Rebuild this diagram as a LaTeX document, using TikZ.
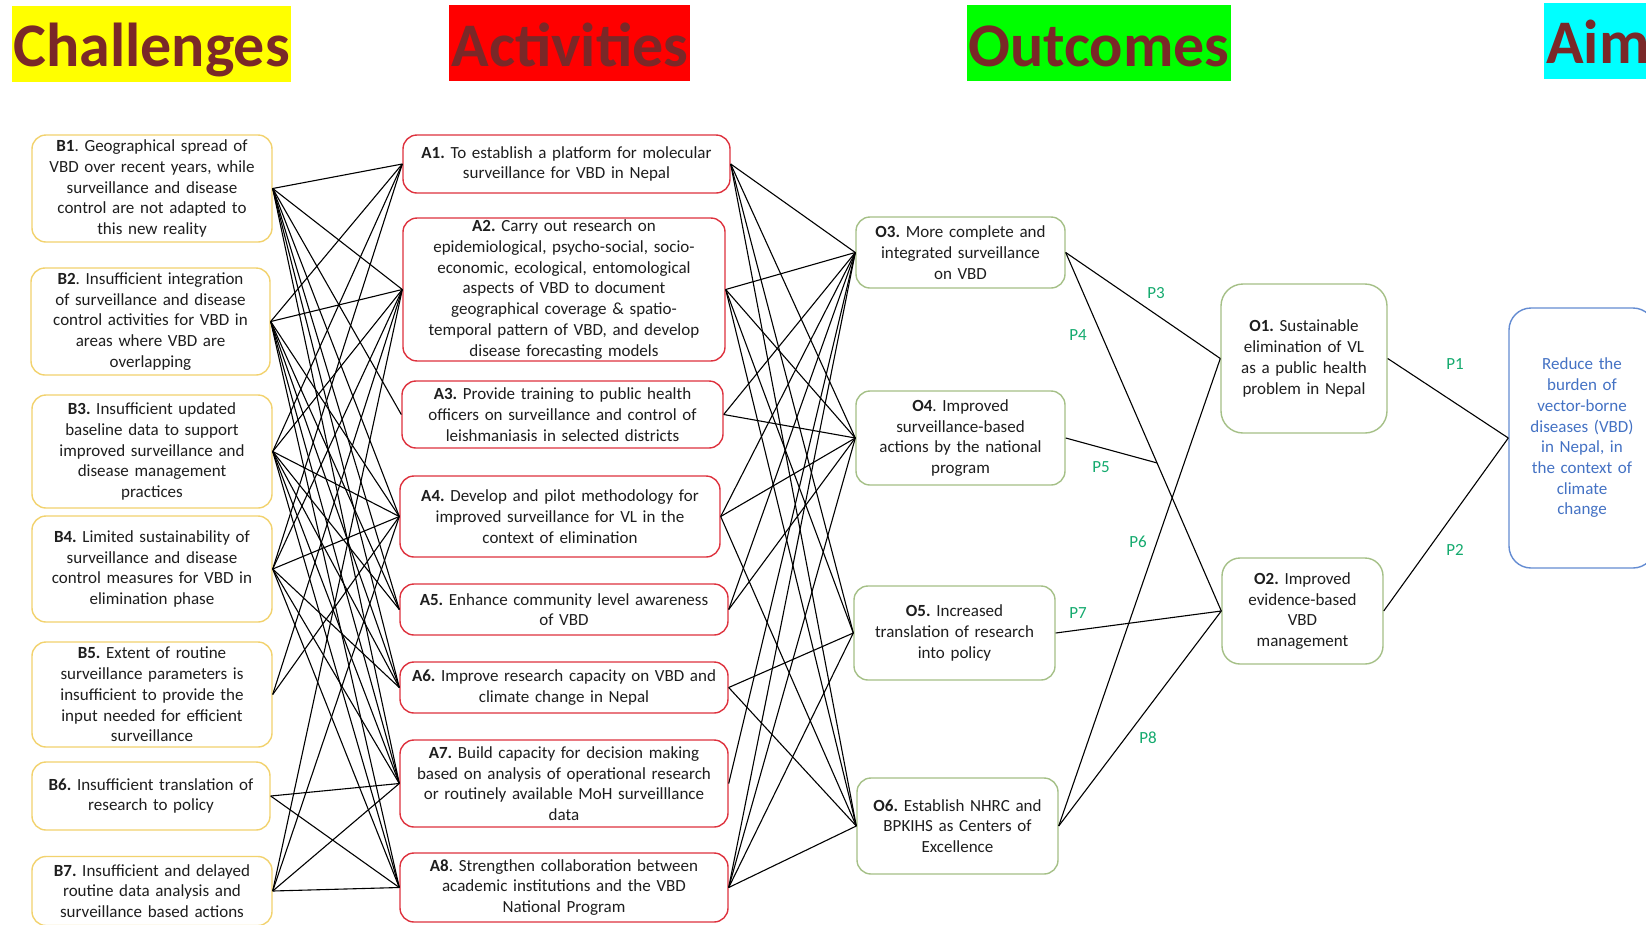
\documentclass[tikz,border=0pt]{standalone}
\usepackage{fontspec}
\setmainfont{Carlito}
\definecolor{byel}{RGB}{242,210,110}
\definecolor{ared}{RGB}{222,50,62}
\definecolor{ogrn}{RGB}{165,192,135}
\definecolor{aimblue}{RGB}{68,114,196}
\definecolor{aimbord}{RGB}{100,140,210}
\definecolor{pgrn}{RGB}{20,170,110}
\definecolor{ttl}{RGB}{122,40,40}
\definecolor{txt}{RGB}{30,30,30}
\definecolor{hyel}{RGB}{255,255,0}
\definecolor{hred}{RGB}{255,0,0}
\definecolor{hgrn}{RGB}{0,255,0}
\definecolor{hcyan}{RGB}{0,255,255}
\frenchspacing
\begin{document}
\begin{tikzpicture}[x=1pt,y=-1pt,
  box/.style={draw, rounded corners=14pt, line width=1.4pt, align=center, inner sep=2pt, text=txt,
    font=\fontsize{17}{20.7}\selectfont},
  bbox/.style={box, draw=byel},
  abox/.style={box, draw=ared},
  obox/.style={box, draw=ogrn},
  conn/.style={line width=1.1pt, black},
  plab/.style={text=pgrn, inner sep=0pt, font=\fontsize{17}{20}\selectfont},
  hdr/.style={inner sep=0pt, text=ttl, font=\fontsize{62}{62}\selectfont\bfseries}]
\useasboundingbox (0,0) rectangle (1646,924);
\fill[white] (0,0) rectangle (1646,924);

% headers
\fill[hyel] (12,6) rectangle (291,82);
\node[hdr, anchor=base] (hc) at (151.5,66) {Challenges};
\fill[hred] (449,5) rectangle (690,81);
\node[hdr, anchor=base] (ha) at (570,66) {Activities};
\fill[hgrn] (967,5) rectangle (1231,81);
\node[hdr, anchor=base] (ho) at (1099,66) {Outcomes};
\fill[hcyan] (1544,3) rectangle (1660,79);
\node[hdr, anchor=base west] (hm) at (1546,63) {Aim};

% challenges
\node[bbox, minimum width=240, minimum height=107, text width=232] (b1) at (152,188.5)
 {\textbf{B1}. Geographical spread of\\VBD over recent years, while\\surveillance and disease\\control are not adapted to\\this new reality};
\node[bbox, minimum width=239, minimum height=107, text width=232] (b2) at (150.5,321.5)
 {\textbf{B2}. Insufficient integration\\of surveillance and disease\\control activities for VBD in\\areas where VBD are\\overlapping};
\node[bbox, minimum width=240, minimum height=113, text width=232] (b3) at (152,451.5)
 {\textbf{B3.} Insufficient updated\\baseline data to support\\improved surveillance and\\disease management\\practices};
\node[bbox, minimum width=240, minimum height=106, text width=232] (b4) at (152,569)
 {\textbf{B4.} Limited sustainability of\\surveillance and disease\\control measures for VBD in\\elimination phase};
\node[bbox, minimum width=240, minimum height=105, text width=232] (b5) at (152,694.5)
 {\textbf{B5.} Extent of routine\\surveillance parameters is\\insufficient to provide the\\input needed for efficient\\surveillance};
\node[bbox, minimum width=238, minimum height=68, text width=232] (b6) at (151,796)
 {\textbf{B6.} Insufficient translation of\\research to policy};
\node[bbox, minimum width=240, minimum height=69, text width=232] (b7) at (152,891)
 {\textbf{B7.} Insufficient and delayed\\routine data analysis and\\surveillance based actions};

% activities
\node[abox, minimum width=327, minimum height=58, text width=318] (a1) at (566.5,164)
 {\textbf{A1.} To establish a platform for molecular\\surveillance for VBD in Nepal};
\node[abox, minimum width=322, minimum height=141, text width=314] (a2) at (564,289.5)
 {\textbf{A2.} Carry out research on\\epidemiological, psycho-social, socio-\\economic, ecological, entomological\\aspects of VBD to document\\geographical coverage \& spatio-\\temporal pattern of VBD, and develop\\disease forecasting models};
\node[abox, minimum width=321, minimum height=67, text width=314] (a3) at (562.5,414.5)
 {\textbf{A3.} Provide training to public health\\officers on surveillance and control of\\leishmaniasis in selected districts};
\node[abox, minimum width=320, minimum height=81, text width=312] (a4) at (560,516.5)
 {\textbf{A4.} Develop and pilot methodology for\\improved surveillance for VL in the\\context of elimination};
\node[abox, minimum width=328, minimum height=51, text width=320] (a5) at (564,609.5)
 {\textbf{A5.} Enhance community level awareness\\of VBD};
\node[abox, minimum width=328, minimum height=51, text width=320] (a6) at (564,687.5)
 {\textbf{A6.} Improve research capacity on VBD and\\climate change in Nepal};
\node[abox, minimum width=328, minimum height=87, text width=320] (a7) at (564,783.5)
 {\textbf{A7.} Build capacity for decision making\\based on analysis of operational research\\or routinely available MoH surveilllance\\data};
\node[abox, minimum width=328, minimum height=69, text width=320] (a8) at (564,887.5)
 {\textbf{A8}. Strengthen collaboration between\\academic institutions and the VBD\\National Program};

% outcomes
\node[obox, minimum width=209, minimum height=71, text width=200] (o3) at (960.5,252.5)
 {\textbf{O3.} More complete and\\integrated surveillance\\on VBD};
\node[obox, minimum width=209, minimum height=94, text width=200] (o4) at (960.5,438)
 {\textbf{O4}. Improved\\surveillance-based\\actions by the national\\program};
\node[obox, minimum width=201, minimum height=94, text width=194] (o5) at (954.5,633)
 {\textbf{O5.} Increased\\translation of research\\into policy};
\node[obox, minimum width=201, minimum height=96, text width=194] (o6) at (957.5,826)
 {\textbf{O6.} Establish NHRC and\\BPKIHS as Centers of\\Excellence};
\node[obox, rounded corners=22pt, minimum width=166, minimum height=149, text width=158] (o1) at (1304,358.5)
 {\textbf{O1.} Sustainable\\elimination of VL\\as a public health\\problem in Nepal};
\node[obox, rounded corners=18pt, minimum width=161, minimum height=106, text width=154] (o2) at (1302.5,611)
 {\textbf{O2.} Improved\\evidence-based\\VBD\\management};

% aim
\node[box, draw=aimbord, text=aimblue, rounded corners=22pt, minimum width=146, minimum height=260, text width=140] (aim) at (1582,438)
 {Reduce the\\burden of\\vector-borne\\diseases (VBD)\\in Nepal, in\\the context of\\climate\\change};

% B -> A
\foreach \b/\a in {b1/a1,b1/a2,b1/a3,b1/a4,b1/a5,b1/a6,b1/a7,
                   b2/a1,b2/a2,b2/a4,b2/a5,b2/a6,b2/a7,b2/a8,
                   b3/a1,b3/a2,b3/a4,b3/a5,b3/a6,b3/a7,b3/a8,
                   b4/a1,b4/a2,b4/a4,b4/a6,b4/a7,b4/a8,
                   b5/a2,b5/a4,
                   b6/a7,b6/a8,
                   b7/a2,b7/a4,b7/a7,b7/a8}
  \draw[conn] (\b.east) -- (\a.west);

% A -> O
\foreach \a/\o in {a1/o3,a1/o4,a1/o5,a1/o6,
                   a2/o3,a2/o4,a2/o5,a2/o6,
                   a3/o3,a3/o4,
                   a4/o3,a4/o4,a4/o6,
                   a5/o3,a5/o4,
                   a6/o5,a6/o6,
                   a7/o3,
                   a8/o3,a8/o4,a8/o5,a8/o6}
  \draw[conn] (\a.east) -- (\o.west);

% O -> O1/O2
\draw[conn] (o3.east) -- (o1.west);
\draw[conn] (o3.east) -- coordinate[pos=0.587] (j) (o2.west);
\draw[conn] (o4.east) -- (j);
\draw[conn] (o5.east) -- (o2.west);
\draw[conn] (o6.east) -- (o1.west);
\draw[conn] (o6.east) -- (o2.west);
\draw[conn] (o1.east) -- (aim.west);
\draw[conn] (o2.east) -- (aim.west);

% path labels
\node[plab] (p3) at (1156,293) {P3};
\node[plab] (p4) at (1078,335) {P4};
\node[plab] (p1) at (1455,364) {P1};
\node[plab] (p5) at (1101,467) {P5};
\node[plab] (p6) at (1138,542) {P6};
\node[plab] (p2) at (1455,550) {P2};
\node[plab] (p7) at (1078,613) {P7};
\node[plab] (p8) at (1148,738) {P8};
\end{tikzpicture}
\end{document}
